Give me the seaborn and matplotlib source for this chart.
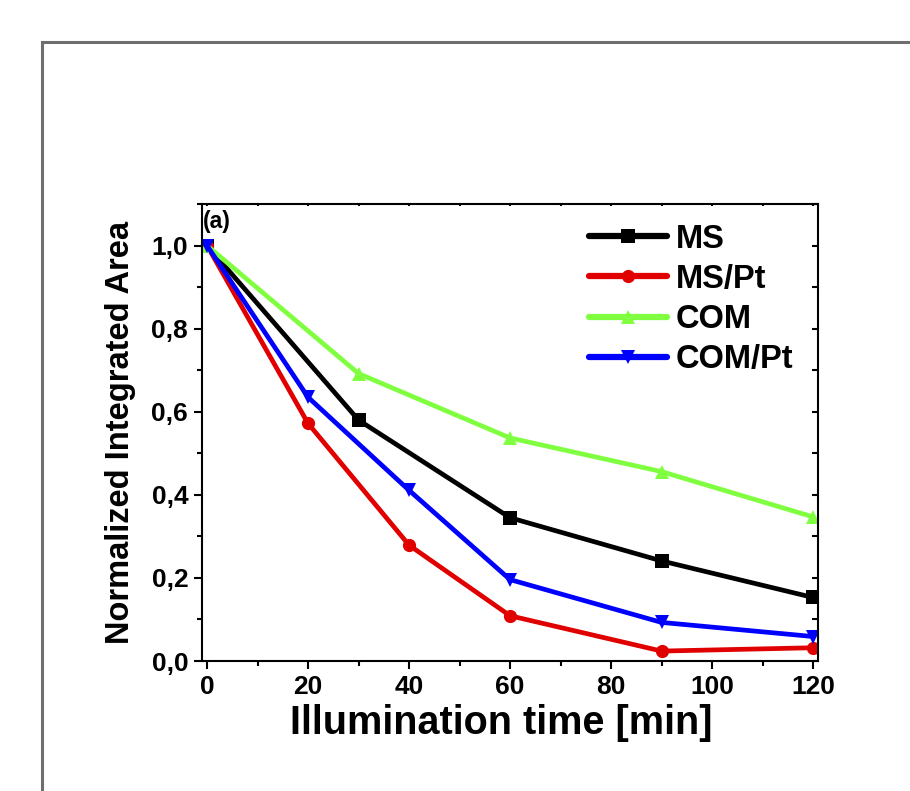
import pandas as pd
import seaborn as sns
import matplotlib.pyplot as plt
from matplotlib.patches import Rectangle
from matplotlib.ticker import MultipleLocator

# --- Data ---
ms_time = [0, 30, 60, 90, 120]
ms_area = [1.0, 0.58, 0.345, 0.241, 0.153]

mspt_time = [0, 20, 40, 60, 90, 120]
mspt_area = [1.0, 0.572, 0.279, 0.109, 0.024, 0.032]

com_time = [0, 30, 60, 90, 120]
com_area = [1.0, 0.692, 0.537, 0.456, 0.347]

compt_time = [0, 20, 40, 60, 90, 120]
compt_area = [1.0, 0.635, 0.411, 0.196, 0.093, 0.059]

series_names = ["MS", "MS/Pt", "COM", "COM/Pt"]
series_colors = ["#000000", "#e00000", "#80ff40", "#0000ff"]
series_markers = ["s", "o", "^", "v"]

# build a long table for seaborn
frames = []
for name, t, a in zip(series_names,
                      [ms_time, mspt_time, com_time, compt_time],
                      [ms_area, mspt_area, com_area, compt_area]):
    frames.append(pd.DataFrame({"time": t, "area": a, "sample": name}))
df = pd.concat(frames, ignore_index=True)

sns.set_style("ticks")
plt.rcParams['font.family'] = ['Liberation Sans', 'DejaVu Sans']
plt.rcParams['font.weight'] = 'bold'
plt.rcParams['text.color'] = 'black'
plt.rcParams['axes.labelcolor'] = 'black'
plt.rcParams['xtick.color'] = 'black'
plt.rcParams['ytick.color'] = 'black'

fig = plt.figure(figsize=(9.1, 7.91), dpi=100)
ax = fig.add_axes([0.222, 0.1643, 0.677, 0.5777])

# gray frame around the panel (cut off at right/bottom like the original)
fig.patches.append(Rectangle((42 / 910, -0.2), 1.2, 0.2 + 1 - 42 / 791,
                             transform=fig.transFigure, fill=False,
                             edgecolor="#6e6e6e", linewidth=2.2, zorder=0))

sns.lineplot(data=df, x="time", y="area", hue="sample", style="sample",
             hue_order=series_names, style_order=series_names,
             palette=dict(zip(series_names, series_colors)),
             markers=dict(zip(series_names, series_markers)),
             dashes=False, linewidth=3.4, markersize=9.5,
             markeredgewidth=0, ax=ax)

ax.set_xlim(-1, 121)
ax.set_ylim(0, 1.1)
ax.xaxis.set_major_locator(MultipleLocator(20))
ax.xaxis.set_minor_locator(MultipleLocator(10))
ax.yaxis.set_major_locator(MultipleLocator(0.2))
ax.yaxis.set_minor_locator(MultipleLocator(0.1))
ax.yaxis.set_major_formatter(lambda v, p: f"{v:.1f}".replace(".", ","))

for s in ax.spines.values():
    s.set_linewidth(1.5)
    s.set_color("black")

ax.tick_params(axis="both", which="major", direction="out", length=6, width=1.5,
               labelsize=19, pad=4, colors="black")
ax.tick_params(axis="both", which="minor", direction="out", length=3.5, width=1.5)
# tiny inner ticks on top and right sides
ax.tick_params(axis="both", which="both", top=True, right=True)
for t in ax.xaxis.get_major_ticks() + ax.xaxis.get_minor_ticks():
    t.tick2line.set_marker(3)
    t.tick2line.set_markersize(1.5)
for t in ax.yaxis.get_major_ticks() + ax.yaxis.get_minor_ticks():
    t.tick2line.set_marker(0)
    t.tick2line.set_markersize(4)

for lbl in ax.get_xticklabels() + ax.get_yticklabels():
    lbl.set_fontweight("bold")

ax.set_xlabel("Illumination time [min]", fontsize=28.5, fontweight="bold")
ax.xaxis.set_label_coords(0.486, -0.093)
ax.xaxis.label.set_va("top")
ax.set_ylabel("Normalized Integrated Area", fontsize=23.5, fontweight="bold", labelpad=11)

ax.text(0.002, 0.988, "(a)", transform=ax.transAxes, fontsize=16.5,
        fontweight="bold", va="top", ha="left")

leg = ax.legend(loc="upper left", bbox_to_anchor=(0.628, 0.957), frameon=False,
                fontsize=23.5, handlelength=2.4, handletextpad=0.25,
                labelspacing=0.28, borderaxespad=0, borderpad=0, numpoints=1)
for txt in leg.get_texts():
    txt.set_fontweight("bold")
for h in leg.get_lines():
    h.set_linewidth(4.5)

fig.savefig("out.png", dpi=100)
